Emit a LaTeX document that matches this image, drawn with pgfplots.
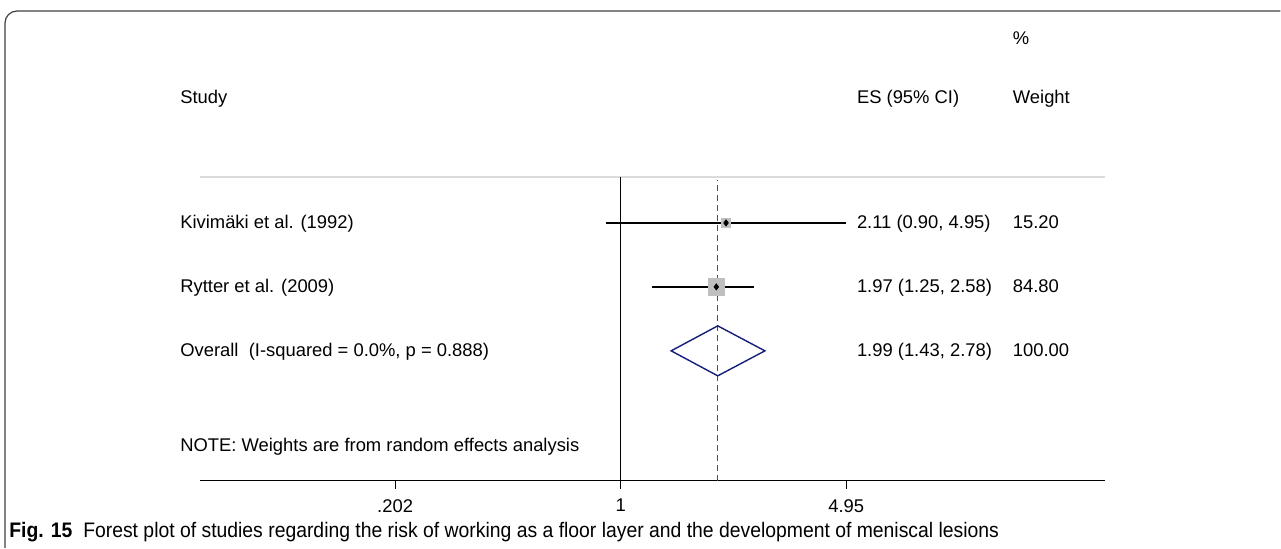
\documentclass[border=0pt]{standalone}
\usepackage{fontspec}
\setmainfont{Liberation Sans}
\usepackage{graphicx}
\usepackage{pgfplots}
\pgfplotsset{compat=1.18}
\definecolor{dred}{RGB}{195,30,40}
\definecolor{dnavy}{RGB}{20,30,120}
\begin{document}
\begin{tikzpicture}
\begin{scope}[x=0.5pt,y=-0.5pt]
\useasboundingbox (0,0) rectangle (1281,548);
\end{scope}
\begin{axis}[
  at={(100pt,-240.5pt)}, anchor=south west,
  scale only axis, width=453pt, height=152pt,
  xmode=log, xmin=0.0506, xmax=31.1,
  ymin=-481, ymax=-177,
  axis x line*=bottom, axis y line=none,
  axis line style={-, line width=0.6pt},
  xtick={0.202,1,4.95}, xticklabels={.202,1,4.95},
  minor xtick={},
  tick align=outside, major tick length=4pt,
  tick style={black, line width=0.5pt},
  xticklabel style={font=\fontsize{9.2}{11}\selectfont, inner sep=1pt, yshift=-4pt},
  /pgf/number format/assume math mode=true,
  clip=false,
]
\draw[gray!28, line width=1.2pt] (rel axis cs:0,1) -- (rel axis cs:1,1);
\addplot[black, line width=0.75pt] coordinates {(1,-481) (1,-177)};
\addplot[dred, line width=0.75pt, dash pattern=on 3pt off 2pt] coordinates {(1.99,-481) (1.99,-180)};
% weight boxes
\addplot[only marks, mark=square*, mark size=2.1pt, color=gray!50] coordinates {(2.11,-223)};
\addplot[only marks, mark=square*, mark size=4.2pt, color=gray!50] coordinates {(1.97,-287)};
% CIs
\addplot[black, line width=0.7pt] coordinates {(0.90,-223) (4.95,-223)};
\addplot[black, line width=0.7pt] coordinates {(1.25,-287) (2.58,-287)};
% point estimates
\addplot[only marks, mark=diamond*, mark size=1.5pt, black] coordinates {(2.11,-223) (1.97,-287)};
% overall diamond
\addplot[dnavy, line width=0.7pt] coordinates {(1.43,-351) (1.99,-326) (2.78,-351) (1.99,-376)} -- cycle;
\end{axis}
\begin{scope}[x=0.5pt,y=-0.5pt, every node/.style={inner sep=0pt, font=\fontsize{9.2}{11}\selectfont}]
\draw[line width=0.6pt, black!75, rounded corners=6pt] (5,548) -- (5,11) -- (1281,11);
\node[anchor=mid west] at (1013,39) {\%};
\node[anchor=mid west] at (180,98) {Study};
\node[anchor=mid west] at (857,98) {ES (95\% CI)};
\node[anchor=mid west] at (1013,98) {Weight};
\node[anchor=mid west] at (180,223) {Kivimäki et al. (1992)};
\node[anchor=mid west] at (857,223) {2.11 (0.90, 4.95)};
\node[anchor=mid west] at (1013,223) {15.20};
\node[anchor=mid west] at (180,287) {Rytter et al. (2009)};
\node[anchor=mid west] at (857,287) {1.97 (1.25, 2.58)};
\node[anchor=mid west] at (1013,287) {84.80};
\node[anchor=mid west] at (180,351) {Overall\ \ (I-squared = 0.0\%, p = 0.888)};
\node[anchor=mid west] at (857,351) {1.99 (1.43, 2.78)};
\node[anchor=mid west] at (1013,351) {100.00};
\node[anchor=mid west] at (180,446) {NOTE: Weights are from random effects analysis};
\node[anchor=mid west] at (9,532) {\resizebox{495pt}{\height}{\fontsize{10.5}{12}\selectfont\textbf{Fig. 15}\ \ Forest plot of studies regarding the risk of working as a floor layer and the development of meniscal lesions}};
\end{scope}
\end{tikzpicture}
\end{document}
